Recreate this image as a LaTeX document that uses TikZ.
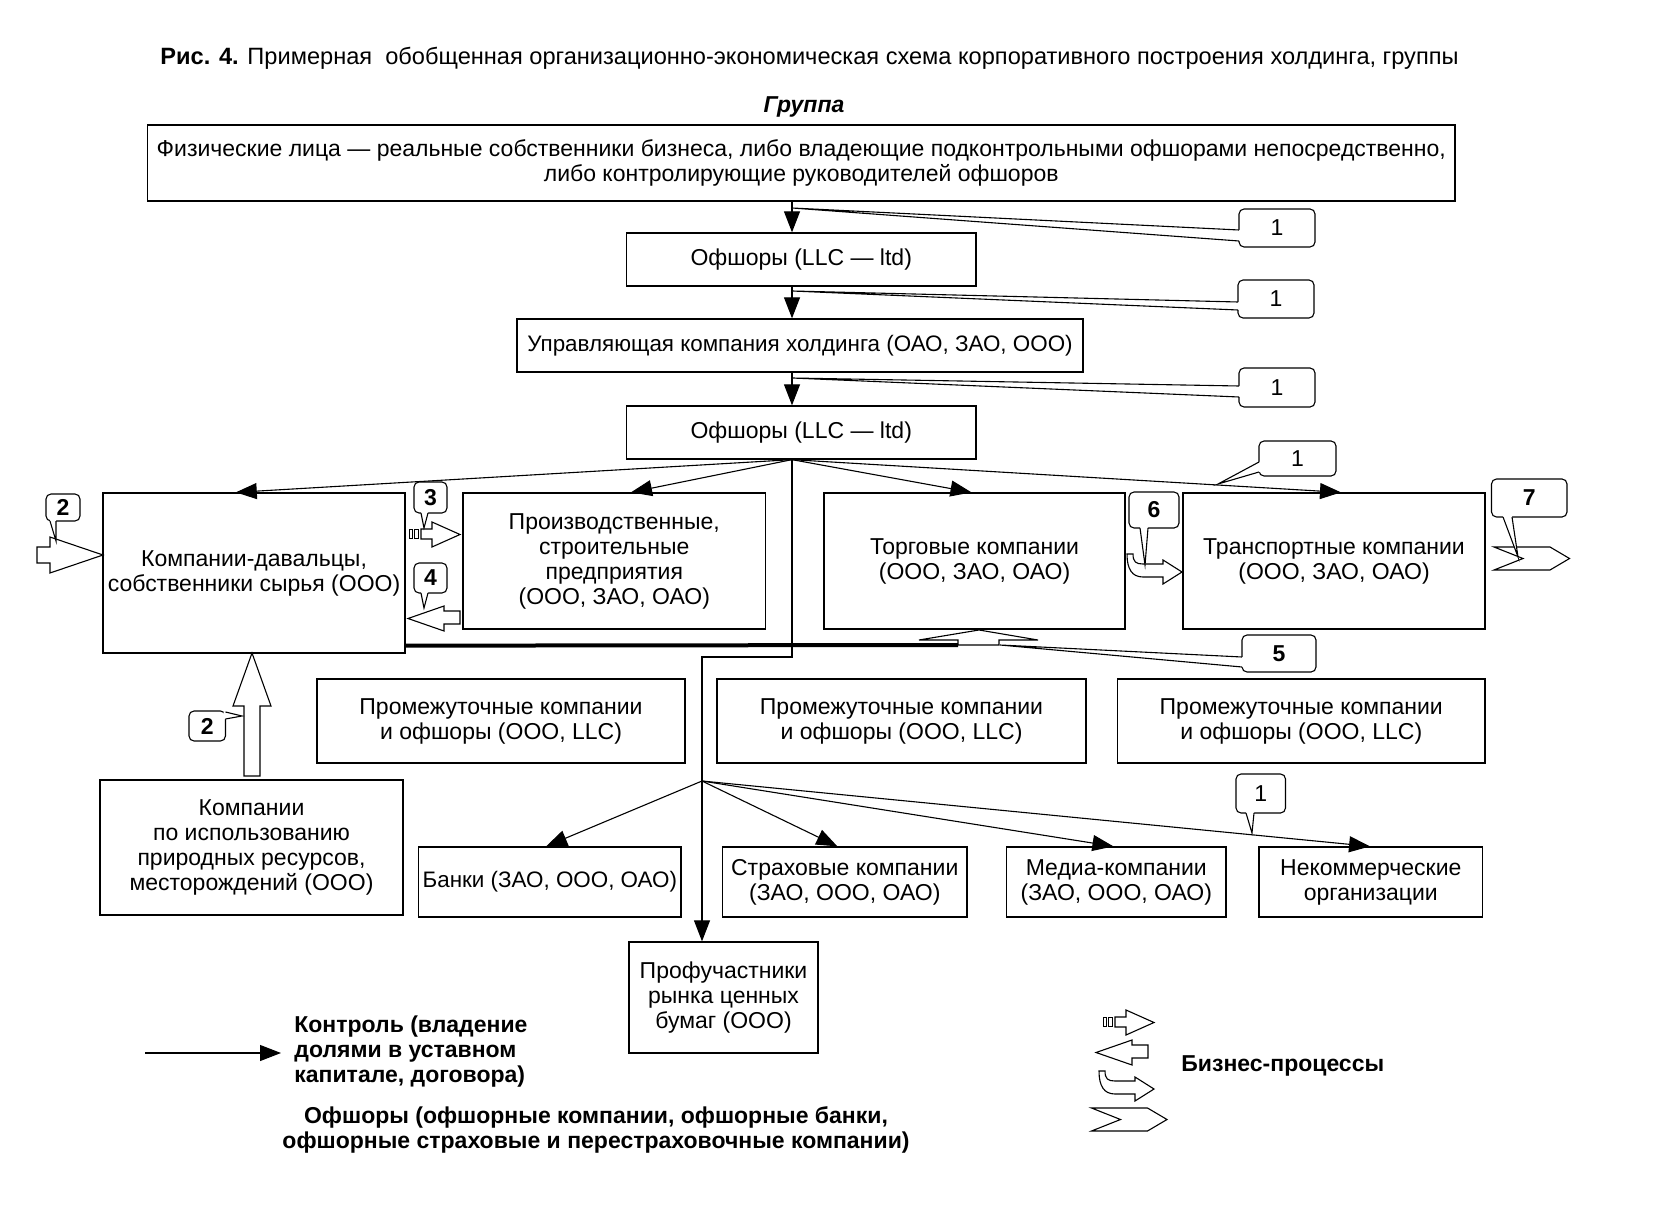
\documentclass[tikz,border=0pt]{standalone}
\usepackage{fontspec}
\setmainfont{Liberation Sans}
\usetikzlibrary{arrows.meta,calc}
\newcommand\fsz{\fontsize{11.5}{12.5}\selectfont}
\newcommand\fsm{\fontsize{11.2}{12.5}\selectfont}
\newcommand\mkbox[6]{\node[box, minimum width={(#4-#2)*0.5pt}, minimum height={(#5-#3)*0.5pt}] (#1) at ({(#2+#4)/2},{(#3+#5)/2}) {#6};}
\newcommand\mkcall[6]{\node[callbox, minimum width={(#4-#2)*0.5pt}, minimum height={(#5-#3)*0.5pt}] (#1) at ({(#2+#4)/2},{(#3+#5)/2}) {#6};}
% pointer on left side: x, yA, yB, tip
\newcommand\ptrL[4]{\fill[white] (#1,#2) -- #4 -- (#1,#3) -- ({#1+2},#3) -- ({#1+2},#2) -- cycle;
 \draw[ptr] (#1,#2) -- #4 -- (#1,#3);}
% pointer on bottom side: y, xA, xB, tip
\newcommand\ptrB[4]{\fill[white] (#2,#1) -- #4 -- (#3,#1) -- (#3,{#1-2}) -- (#2,{#1-2}) -- cycle;
 \draw[ptr] (#2,#1) -- #4 -- (#3,#1);}
% pointer on right side: x, yA, yB, tip
\newcommand\ptrR[4]{\fill[white] (#1,#2) -- #4 -- (#1,#3) -- ({#1-2},#3) -- ({#1-2},#2) -- cycle;
 \draw[ptr] (#1,#2) -- #4 -- (#1,#3);}
\newcommand\shpStriped{%
 \draw[blk, line width=0.4pt] (409,529.5) rectangle (412.5,538.5);
 \draw[blk, line width=0.4pt] (414.5,529.5) rectangle (418.5,538.5);
 \draw[blk] (421,529) -- (432,529) -- (432,522) -- (460,534.5) -- (432,547) -- (432,539) -- (421,539) -- cycle;}
\newcommand\shpLeft{\draw[blk] (408,618.5) -- (444,606) -- (444,611) -- (460,611) -- (460,624) -- (444,624) -- (444,631) -- cycle;}
\newcommand\shpCurved{\draw[blk] (1127,554) -- (1133,554) .. controls (1133,562) and (1136,564) .. (1143,564) -- (1163,564) -- (1163,560) -- (1182,572) -- (1163,584) -- (1163,577) -- (1143,577) .. controls (1132,577) and (1127,569) .. (1127,554) -- cycle;}
\newcommand\shpChev{\draw[blk] (1494,547) -- (1550,547) -- (1569.5,558.5) -- (1550,570) -- (1494,570) -- (1523,558.5) -- cycle;}
\begin{document}
\begin{tikzpicture}[x=0.5pt,y=-0.5pt,
  box/.style={draw, line width=0.65pt, fill=white, inner sep=0pt, align=center, font=\fsz},
  callbox/.style={draw, line width=0.55pt, rounded corners=2.5pt, fill=white, inner sep=0pt, font=\fsz\bfseries},
  ctrl/.style={line width=0.55pt, -{Triangle[length=10.5pt,width=8pt]}},
  ptr/.style={line width=0.55pt, line join=miter},
  blk/.style={draw, line width=0.55pt, fill=white, line join=miter},
  lbl/.style={inner sep=0pt, font=\fsz}]
\useasboundingbox[fill=white] (0,0) rectangle (1663,1229);

% title
\node[lbl, anchor=base west, font=\fontsize{11.8}{14}\selectfont] (title) at (160,65) {\textbf{Рис. 4.} Примерная\ \ обобщенная организационно-экономическая схема корпоративного построения холдинга, группы};
\node[lbl] (grp) at (804,107) {\textbf{\textit{Группа}}};

% boxes
\mkbox{top}{147.5}{125}{1455}{201}{Физические лица — реальные собственники бизнеса, либо владеющие подконтрольными офшорами непосредственно,\\ либо контролирующие руководителей офшоров}
\mkbox{ofs1}{626.5}{233}{976}{286}{Офшоры (LLC — ltd)}
\mkbox{upr}{517}{319}{1083}{372}{\fsm Управляющая компания холдинга (ОАО, ЗАО, ООО)}
\mkbox{ofs2}{626.5}{406}{976}{459}{Офшоры (LLC — ltd)}
\mkbox{kd}{103}{493}{405}{653}{Компании-давальцы,\\ собственники сырья (ООО)}
\mkbox{proiz}{463}{493}{765.5}{629}{Производственные,\\ строительные\\ предприятия\\ (ООО, ЗАО, ОАО)}
\mkbox{torg}{824}{493}{1125}{629}{Торговые компании\\ (ООО, ЗАО, ОАО)}
\mkbox{trans}{1183}{493}{1485}{629}{Транспортные компании\\ (ООО, ЗАО, ОАО)}
\mkbox{pr1}{317}{679}{685}{763}{Промежуточные компании\\ и офшоры (ООО, LLC)}
\mkbox{pr2}{717}{679}{1086}{763}{Промежуточные компании\\ и офшоры (ООО, LLC)}
\mkbox{pr3}{1117.5}{679}{1485}{763}{Промежуточные компании\\ и офшоры (ООО, LLC)}
\mkbox{kpi}{100}{780}{403}{915}{Компании\\ по использованию\\ природных ресурсов,\\ месторождений (ООО)}
\mkbox{bank}{418.6}{847}{681}{917}{\fsm Банки (ЗАО, ООО, ОАО)}
\mkbox{strah}{722.5}{847}{967}{917}{Страховые компании\\ (ЗАО, ООО, ОАО)}
\mkbox{media}{1006.6}{847}{1226}{917}{Медиа-компании\\ (ЗАО, ООО, ОАО)}
\mkbox{nekom}{1259}{847}{1482.5}{917}{Некоммерческие\\ организации}
\mkbox{prof}{629}{942}{818}{1053}{Профучастники\\ рынка ценных\\ бумаг (ООО)}

% control connectors
\coordinate (T) at (792,0);
\draw[ctrl] (top.south -| T) -- (ofs1.north -| T);
\draw[ctrl] (ofs1.south -| T) -- (upr.north -| T);
\draw[ctrl] (upr.south -| T) -- (ofs2.north -| T);
\coordinate (F1) at (ofs2.south -| T);
\draw[ctrl] (F1) -- ($(kd.north west)!0.44!(kd.north east)$);
\draw[ctrl] (F1) -- ($(proiz.north west)!0.555!(proiz.north east)$);
\draw[ctrl] (F1) -- ($(torg.north west)!0.49!(torg.north east)$);
\draw[ctrl] (F1) -- ($(trans.north west)!0.523!(trans.north east)$);
\coordinate (J1) at (792,657);
\coordinate (J2) at (702,657);
\coordinate (F2) at (702,781);
\draw[ctrl] (F1) -- (J1) -- (J2) -- (prof.north -| J2);
\draw[ctrl] (F2) -- ($(bank.north west)!0.486!(bank.north east)$);
\draw[ctrl] (F2) -- ($(strah.north west)!0.47!(strah.north east)$);
\draw[ctrl] (F2) -- ($(media.north west)!0.487!(media.north east)$);
\draw[ctrl] (F2) -- ($(nekom.north west)!0.497!(nekom.north east)$);

% thick line and business-process arrows
\coordinate (thk) at (958,645);
\draw[line width=2pt] ($(kd.south east)+(0,-8)$) -- (thk);
\draw[blk] (958,645) -- (958,640) -- (919,640) -- (979,630) -- (1038,640) -- (999,640) -- (999,645) -- cycle;
\draw[blk] (37,547) -- (50,547) -- (50,537) -- (103,555) -- (50,573) -- (50,563) -- (37,563) -- cycle;
\draw[blk] (244,776) -- (244,706) -- (233,706) -- (252,653) -- (271,706) -- (260,706) -- (260,776) -- cycle;
\shpStriped
\shpLeft
\shpCurved
\shpChev

% callouts
\coordinate (t1a) at (792,208);
\coordinate (t1b) at (792,291);
\coordinate (t1c) at (792,378);
\coordinate (t1d) at (1218,484);
\coordinate (t2a) at (56,541);
\coordinate (t3) at (424,528);
\coordinate (t4) at (424,608);
\coordinate (t6) at (1145,565);
\coordinate (t7) at (1518,557);
\coordinate (t5) at (1000,645);
\coordinate (t1e) at (1252,833);
\coordinate (t2b) at (242,716);
\mkcall{c1a}{1239}{209}{1315}{247}{\mdseries 1}
\ptrL{1239}{230}{241}{(t1a)}
\mkcall{c1b}{1238}{280}{1314}{318}{\mdseries 1}
\ptrL{1238}{302}{310}{(t1b)}
\mkcall{c1c}{1239}{368}{1315}{407}{\mdseries 1}
\ptrL{1239}{386}{397}{(t1c)}
\mkcall{c1d}{1259}{441}{1336}{476}{\mdseries 1}
\ptrL{1259}{462}{472}{(t1d)}
\mkcall{c2a}{46}{494}{80}{521}{2}
\ptrB{521}{50}{56}{(t2a)}
\mkcall{c3}{414}{482}{447}{513}{3}
\ptrB{513}{421}{428}{(t3)}
\mkcall{c4}{414}{563}{447}{593}{4}
\ptrB{593}{421}{428}{(t4)}
\mkcall{c6}{1129}{492}{1179}{528}{6}
\ptrB{528}{1140}{1148}{(t6)}
\mkcall{c7}{1491.5}{479}{1567}{517}{7}
\ptrB{517}{1503}{1512}{(t7)}
\mkcall{c5}{1242}{635}{1316}{672}{5}
\ptrL{1242}{657}{667}{(t5)}
\mkcall{c1e}{1236}{774}{1285.5}{813}{\mdseries 1}
\ptrB{813}{1246}{1254}{(t1e)}
\mkcall{c2b}{189}{711}{225.5}{741}{2}
\ptrR{225.5}{712}{719}{(t2b)}

% legend
\coordinate (la) at (145,1053);
\coordinate (lb) at (281,1053);
\draw[ctrl] (la) -- (lb);
\node[lbl, anchor=west, align=left, font=\fsz\bfseries] (leg1) at (294,1052) {Контроль (владение\\ долями в уставном\\ капитале, договора)};
\node[lbl, align=center, font=\fsz\bfseries] (leg2) at (596,1130) {Офшоры (офшорные компании, офшорные банки,\\ офшорные страховые и перестраховочные компании)};
\node[lbl, anchor=west, font=\fsz\bfseries] (leg3) at (1181,1066) {Бизнес-процессы};
\begin{scope}[shift={(694,488)}]\shpStriped\end{scope}
\begin{scope}[shift={(688,434)}]\shpLeft\end{scope}
\begin{scope}[shift={(-28,517)}]\shpCurved\end{scope}
\begin{scope}[shift={(-402.5,561)}]\shpChev\end{scope}
\end{tikzpicture}
\end{document}
